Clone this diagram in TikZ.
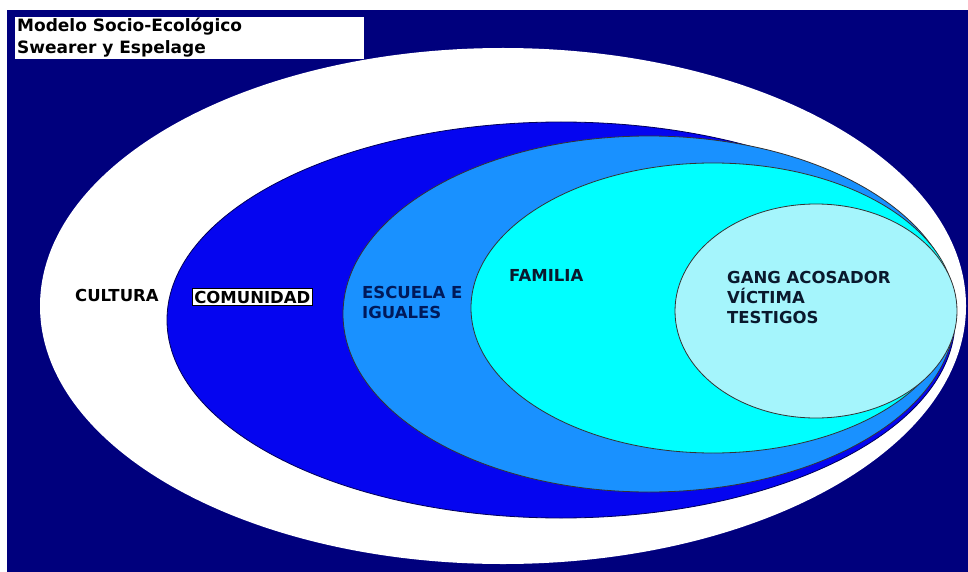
\documentclass[tikz,border=0pt]{standalone}
\usepackage{fontspec}
\setmainfont{DejaVu Sans}
\definecolor{navybg}{RGB}{0,0,125}
\definecolor{comblue}{RGB}{5,5,240}
\definecolor{escblue}{RGB}{25,145,255}
\definecolor{famcyan}{RGB}{0,255,255}
\definecolor{gangcyan}{RGB}{165,245,252}
\definecolor{txtdark}{RGB}{10,25,45}
\definecolor{txtnavy}{RGB}{0,25,90}
\tikzset{
  ring/.style={draw=black!80, line width=0.8pt},
  lbl/.style={font=\fontsize{16.5}{20}\selectfont\bfseries, inner sep=0pt, align=left},
}
\begin{document}
\begin{tikzpicture}[x=1pt,y=-1pt]
\useasboundingbox (0,0) rectangle (968,572);
\fill[white] (0,0) rectangle (968,572);
\fill[navybg] (7,10) rectangle (968,572);
% title box
\node[fill=white, draw=navybg, minimum width=350pt, minimum height=43pt, inner sep=0pt, anchor=north west] (titlebox) at (14,16) {};
\node[font=\fontsize{17}{22}\selectfont\bfseries, anchor=north west, inner sep=0pt, align=left] (title) at (17,18) {Modelo Socio-Ecológico\\Swearer y Espelage};
% ellipses
\fill[white] (503,306) ellipse [x radius=463pt, y radius=258pt];
\draw[ring, fill=comblue, draw=navybg!70!black] (561,320) ellipse [x radius=394pt, y radius=198pt];
\draw[ring, fill=escblue] (649,314) ellipse [x radius=306pt, y radius=178pt];
\draw[ring, fill=famcyan] (713,308) ellipse [x radius=242pt, y radius=145pt];
\draw[ring, fill=gangcyan] (816,311) ellipse [x radius=141pt, y radius=107pt];
% labels
\node[lbl, anchor=west, text=black] (cultura) at (75,295) {CULTURA};
\node[lbl, anchor=west, text=black, fill=white, draw=black, line width=0.6pt, inner xsep=2pt, inner ysep=2.5pt] (comunidad) at (192,297) {COMUNIDAD};
\node[lbl, anchor=west, text=txtnavy] (escuela) at (362,302) {ESCUELA E\\IGUALES};
\node[lbl, anchor=west, text=txtdark] (familia) at (509,275) {FAMILIA};
\node[lbl, anchor=north west, text=txtdark] (gang) at (727,271) {GANG ACOSADOR\\VÍCTIMA\\TESTIGOS};
\end{tikzpicture}
\end{document}
